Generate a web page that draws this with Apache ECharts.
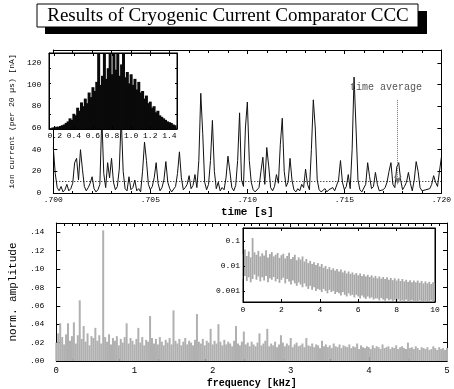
<!DOCTYPE html>
<html>
<head>
<meta charset="utf-8">
<script src="https://cdn.jsdelivr.net/npm/echarts@6/dist/echarts.min.js"></script>
<style>
  html, body { margin: 0; padding: 0; background: #fff; }
  #main { width: 454px; height: 389px; }
</style>
</head>
<body>
<div id="main"></div>
<script>
// ion current samples, one every 0.1 ms from t = .700 s  [nA]
const timeStart = 0.700;
const timeStep = 0.0001;
const ionCurrent = [
  42, 18, 5, 2, 6, 1, 3, 8, 2, 4,
  9, 28, 32, 12, 40, 22, 6, 2, 5, 9,
  15, 4, 1, 3, 8, 70, 18, 5, 28, 14,
  32, 10, 3, 6, 22, 70, 20, 4, 2, 15,
  3, 5, 12, 2, 4, 1, 20, 47, 30, 8,
  3, 6, 14, 28, 9, 2, 5, 12, 29, 10,
  4, 1, 2, 6, 18, 38, 14, 3, 5, 8,
  16, 4, 7, 17, 5, 30, 92, 55, 10, 3,
  8, 30, 67, 20, 4, 10, 2, 5, 3, 14,
  34, 20, 5, 2, 7, 30, 74, 12, 6, 60,
  84, 30, 10, 3, 1, 2, 5, 20, 33, 8,
  42, 25, 5, 2, 6, 17, 9, 45, 69, 20,
  6, 10, 32, 12, 3, 1, 4, 2, 8, 5,
  22, 8, 3, 40, 86, 60, 12, 3, 1, 2,
  4, 1, 3, 2, 5, 2, 3, 12, 30, 10,
  3, 6, 17, 4, 40, 107, 60, 12, 3, 1,
  2, 8, 28, 15, 4, 6, 19, 8, 2, 1,
  3, 5, 10, 20, 28, 8, 5, 24, 28, 12,
  3, 6, 10, 19, 9, 2, 12, 29, 20, 5,
  2, 1, 3, 2, 4, 8, 16, 10, 6, 20,
  33
];
const timeAverage = 11;
const arrowTime = 0.71775;
const arrowFrom = 86, arrowTo = 8;

// inset: histogram (bins of 0.02 from 0.16), height in % of inset
const histStart = 0.16;
const histStep = 0.02;
const histCounts = [
  1, 2, 2, 3, 3, 4, 5, 6, 8, 10,
  14, 12, 20, 18, 28, 24, 35, 30, 40, 34,
  48, 42, 55, 50, 62, 100, 58, 70, 100, 66,
  80, 100, 72, 100, 78, 100, 70, 85, 100, 68,
  75, 60, 72, 58, 66, 52, 62, 48, 50, 40,
  44, 34, 36, 28, 30, 22, 24, 18, 16, 14,
  12, 10, 9, 8, 6, 5
];
const histTicks = [0.2, 0.4, 0.6, 0.8, 1.0, 1.2, 1.4];

// spectrum, one line every 0.025 kHz
const freqStep = 0.025;
const amplitude = [
  .020, .030, .041, .026, .018, .029, .041, .022, .027, .042,
  .019, .028, .066, .024, .038, .021, .030, .017, .027, .025,
  .036, .022, .028, .019, .142, .026, .021, .029, .018, .025,
  .022, .027, .017, .024, .020, .026, .041, .019, .025, .022,
  .018, .024, .036, .020, .026, .017, .023, .021, .049, .025,
  .019, .024, .018, .026, .021, .017, .023, .020, .025, .018,
  .055, .022, .019, .024, .017, .021, .025, .018, .022, .020,
  .017, .023, .051, .021, .019, .024, .017, .022, .020, .035,
  .018, .022, .019, .040, .021, .017, .023, .018, .021, .019,
  .016, .022, .038, .019, .017, .021, .032, .018, .020, .016,
  .021, .018, .016, .020, .030, .017, .019, .022, .035, .016,
  .019, .017, .021, .015, .018, .028, .020, .016, .019, .017,
  .025, .015, .018, .020, .016, .017, .019, .015, .025, .017,
  .016, .019, .015, .018, .017, .014, .022, .016, .018, .015,
  .017, .014, .019, .016, .015, .018, .014, .017, .016, .015,
  .018, .014, .016, .015, .019, .013, .017, .015, .014, .016,
  .015, .013, .017, .014, .016, .015, .013, .018, .014, .015,
  .016, .013, .015, .014, .017, .013, .015, .016, .014, .013,
  .020, .014, .015, .013, .016, .014, .012, .015, .014, .013,
  .015, .012, .013, .016, .014, .012, .015, .013, .014, .012,
  .014
];

// inset: log spectrum 0..10 kHz, spread (low / high) every 0.1 kHz
const logStep = 0.1;
const logHigh = [
  .030, .045, .025, .038, .022, .130, .035, .028, .040, .024,
  .032, .026, .042, .022, .030, .036, .024, .028, .033, .021,
  .027, .031, .020, .025, .034, .019, .023, .028, .017, .022,
  .018, .024, .015, .019, .013, .016, .012, .014, .011, .013,
  .0095, .012, .0085, .010, .0075, .0090, .0070, .0080, .0065, .0075,
  .0060, .0072, .0055, .0065, .0050, .0060, .0048, .0055, .0045, .0052,
  .0042, .0050, .0040, .0046, .0038, .0044, .0036, .0042, .0034, .0040,
  .0032, .0038, .0031, .0036, .0030, .0035, .0028, .0033, .0027, .0032,
  .0026, .0031, .0025, .0030, .0024, .0028, .0023, .0027, .0022, .0026,
  .0022, .0026, .0021, .0025, .0020, .0024, .0020, .0023, .0019, .0022,
  .0021
];
const logLow = [
  .0030, .0040, .0025, .0035, .0022, .0030, .0045, .0028, .0038, .0024,
  .0035, .0026, .0040, .0022, .0032, .0028, .0036, .0024, .0030, .0021,
  .0028, .0034, .0020, .0030, .0024, .0018, .0026, .0020, .0016, .0022,
  .0018, .0014, .0020, .0015, .0012, .0016, .0011, .0014, .0010, .0012,
  .0011, .0009, .0012, .0010, .0008, .0011, .0009, .0010, .00075, .0009,
  .0008, .00065, .0009, .0007, .0006, .0008, .00065, .0007, .00055, .0007,
  .0006, .0005, .00065, .00055, .00048, .0006, .0005, .00055, .00045, .0005,
  .0005, .00042, .00052, .00045, .0004, .0005, .00042, .00046, .0004, .00044,
  .0004, .00045, .00038, .00042, .0004, .00045, .00038, .0004, .00042, .00038,
  .0004, .00038, .00042, .00038, .0004, .00037, .0004, .00038, .00042, .00038,
  .0004
];
const logTicks = [0.001, 0.01, 0.1];

const mono = 'Liberation Mono';
const black = '#000';

function axisBase(extra) {
  return Object.assign({
    axisLine: { show: true, onZero: false, lineStyle: { color: black, width: 1 } },
    axisTick: { show: true, inside: true, length: 4, lineStyle: { color: black } },
    splitLine: { show: false },
    axisLabel: { show: true, fontFamily: mono, fontSize: 8, color: black }
  }, extra);
}
function noLabel(extra) {
  const a = axisBase(extra);
  a.axisLabel = { show: false };
  return a;
}

const timeData = ionCurrent.map((v, i) => [timeStart + i * timeStep, v]);
const histData = histCounts.map((v, i) => [histStart + i * histStep, v]);
const specData = amplitude.map((v, i) => [i * freqStep, v]);
const logData = logHigh.map((v, i) => [i * logStep, logLow[i], v]);

var myChart = echarts.init(document.getElementById('main'));
myChart.setOption({
  animation: false,
  backgroundColor: '#fff',
  grid: [
    { left: 47, right: 7, top: 50, height: 143 },
    { left: 49, top: 53, width: 128, height: 76, show: true, backgroundColor: '#fff', borderColor: black, borderWidth: 1, z: 10 },
    { left: 47, right: 7, top: 223, height: 141 },
    { left: 243, top: 228, width: 192, height: 74, show: true, backgroundColor: '#fff', borderColor: black, borderWidth: 1, z: 10 }
  ],
  xAxis: [
    axisBase({ gridIndex: 0, type: 'value', min: 0.700, max: 0.720, interval: 0.005, position: 'bottom',
      minorTick: { show: true, splitNumber: 5, length: 2, lineStyle: { color: black } },
      axisLabel: { fontFamily: mono, fontSize: 8, color: black, margin: 3, formatter: v => v.toFixed(3).slice(1) },
      name: 'time [s]', nameLocation: 'middle', nameGap: 14,
      nameTextStyle: { fontFamily: mono, fontSize: 11, fontWeight: 'bold', color: black } }),
    noLabel({ gridIndex: 0, type: 'value', min: 0.700, max: 0.720, interval: 0.005, position: 'top',
      minorTick: { show: true, splitNumber: 5, length: 3, lineStyle: { color: black } } }),
    axisBase({ gridIndex: 1, type: 'value', min: 0.14, max: 1.48, position: 'bottom', z: 12,
      axisTick: { show: true, inside: true, length: 3, customValues: histTicks, lineStyle: { color: black } },
      axisLabel: { fontFamily: mono, fontSize: 8, color: black, margin: 3, customValues: histTicks, formatter: v => v.toFixed(1) } }),
    noLabel({ gridIndex: 1, type: 'value', min: 0.14, max: 1.48, position: 'top', z: 12,
      axisTick: { show: true, inside: true, length: 3, customValues: histTicks, lineStyle: { color: black } } }),
    axisBase({ gridIndex: 2, type: 'value', min: 0, max: 5, interval: 1, position: 'bottom',
      minorTick: { show: true, splitNumber: 10, length: 2, lineStyle: { color: black } },
      axisLabel: { fontFamily: mono, fontSize: 9, color: black, margin: 5 },
      name: 'frequency [kHz]', nameLocation: 'middle', nameGap: 17,
      nameTextStyle: { fontFamily: mono, fontSize: 10, fontWeight: 'bold', color: black } }),
    noLabel({ gridIndex: 2, type: 'value', min: 0, max: 5, interval: 1, position: 'top',
      minorTick: { show: true, splitNumber: 10, length: 3, lineStyle: { color: black } } }),
    axisBase({ gridIndex: 3, type: 'value', min: 0, max: 10, interval: 2, position: 'bottom', z: 12,
      axisTick: { show: true, inside: true, length: 3, lineStyle: { color: black } },
      axisLabel: { fontFamily: mono, fontSize: 8, color: black, margin: 4 } }),
    noLabel({ gridIndex: 3, type: 'value', min: 0, max: 10, interval: 2, position: 'top', z: 12,
      axisTick: { show: true, inside: true, length: 3, lineStyle: { color: black } } })
  ],
  yAxis: [
    axisBase({ gridIndex: 0, type: 'value', min: 0, max: 132, interval: 20, position: 'left',
      axisLabel: { fontFamily: mono, fontSize: 8, color: black, margin: 12, showMaxLabel: false },
      name: 'ion current (per 20 \u00b5s) [nA]', nameLocation: 'middle', nameGap: 31,
      nameTextStyle: { fontFamily: mono, fontSize: 8, color: black } }),
    noLabel({ gridIndex: 0, type: 'value', min: 0, max: 132, interval: 20, position: 'right' }),
    noLabel({ gridIndex: 1, type: 'value', min: 0, max: 100, interval: 20, position: 'left', z: 12,
      axisTick: { show: true, inside: true, length: 2, lineStyle: { color: black } } }),
    noLabel({ gridIndex: 1, type: 'value', min: 0, max: 100, interval: 20, position: 'right', z: 12,
      axisTick: { show: true, inside: true, length: 2, lineStyle: { color: black } } }),
    axisBase({ gridIndex: 2, type: 'value', min: 0, max: 0.15, interval: 0.02, position: 'left',
      axisLabel: { fontFamily: mono, fontSize: 8, color: black, margin: 12, showMaxLabel: false,
        formatter: v => v.toFixed(2).slice(1) },
      name: 'norm. amplitude', nameLocation: 'middle', nameGap: 23,
      nameTextStyle: { fontFamily: mono, fontSize: 11, color: black } }),
    noLabel({ gridIndex: 2, type: 'value', min: 0, max: 0.15, interval: 0.02, position: 'right' }),
    axisBase({ gridIndex: 3, type: 'log', min: 0.00036, max: 0.33, position: 'left', z: 12,
      axisTick: { show: true, inside: true, length: 2, customValues: logTicks, lineStyle: { color: black } },
      axisLabel: { fontFamily: mono, fontSize: 8, color: black, margin: 3, customValues: logTicks,
        formatter: v => String(+v.toPrecision(1)) } }),
    noLabel({ gridIndex: 3, type: 'log', min: 0.00036, max: 0.33, position: 'right', z: 12,
      axisTick: { show: false } })
  ],
  series: [
    {
      type: 'line', xAxisIndex: 0, yAxisIndex: 0, data: timeData,
      showSymbol: false, symbol: 'none',
      lineStyle: { color: '#111', width: 1 },
      markLine: {
        silent: true, symbol: 'none',
        label: { show: false },
        data: [
          { yAxis: timeAverage, lineStyle: { color: black, type: [1, 2], width: 1 } },
          [
            { coord: [arrowTime, arrowFrom], symbol: 'none' },
            { coord: [arrowTime, arrowTo], symbol: 'arrow', symbolSize: [6, 8],
              lineStyle: { color: '#777', type: [1, 1], width: 1 } }
          ]
        ]
      }
    },
    {
      type: 'bar', xAxisIndex: 2, yAxisIndex: 2, data: histData, z: 11,
      barWidth: 3, itemStyle: { color: '#0a0a0a' }
    },
    {
      type: 'bar', xAxisIndex: 4, yAxisIndex: 4, data: specData,
      barWidth: 2, itemStyle: { color: '#b0b0b0' }
    },
    {
      type: 'custom', xAxisIndex: 6, yAxisIndex: 6, data: logData, z: 11,
      encode: { x: 0, y: [1, 2] },
      renderItem: function (params, api) {
        var p1 = api.coord([api.value(0), api.value(1)]);
        var p2 = api.coord([api.value(0), api.value(2)]);
        return { type: 'line', shape: { x1: p1[0], y1: p1[1], x2: p2[0], y2: p2[1] },
          style: { stroke: '#a8a8a8', lineWidth: 1.8 } };
      }
    }
  ],
  graphic: [
    { type: 'rect', z: 100, shape: { x: 45, y: 11, width: 382, height: 23 }, style: { fill: black } },
    { type: 'rect', z: 101, shape: { x: 37, y: 4, width: 381, height: 23 }, style: { fill: '#fff', stroke: black, lineWidth: 1 } },
    { type: 'text', z: 102, x: 228, y: 16, style: { text: 'Results of Cryogenic Current Comparator CCC',
      font: '19px "Liberation Serif"', fill: black, align: 'center', verticalAlign: 'middle' } },
    { type: 'text', z: 102, x: 386, y: 87, style: { text: 'time average',
      font: '10px "Liberation Mono"', fill: '#555', align: 'center', verticalAlign: 'middle' } }
  ]
});
</script>
</body>
</html>
